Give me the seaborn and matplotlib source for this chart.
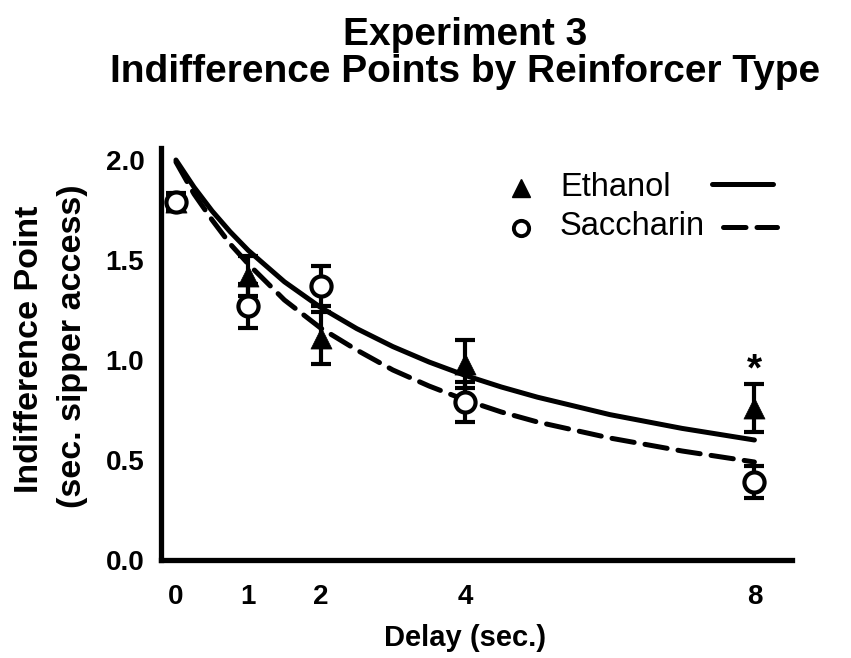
import matplotlib
matplotlib.use("Agg")
import matplotlib.pyplot as plt
from matplotlib.lines import Line2D
import numpy as np
import pandas as pd
import seaborn as sns

# ---------------- data ----------------
delays = [0, 1, 2, 4, 8]
ethanol_mean = [1.79, 1.42, 1.11, 0.98, 0.76]
ethanol_sem = [0.04, 0.10, 0.13, 0.12, 0.12]
saccharin_mean = [1.79, 1.27, 1.37, 0.79, 0.39]
saccharin_sem = [0.045, 0.11, 0.10, 0.10, 0.08]

# fitted curves, values
curve_x = [0, 0.25, 0.5, 0.75, 1, 1.5, 2, 2.5, 3, 3.5, 4, 4.5, 5, 6, 7, 8]
ethanol_fit = [2.00, 1.864, 1.745, 1.641, 1.548, 1.391, 1.263, 1.157, 1.067,
               0.990, 0.923, 0.865, 0.814, 0.727, 0.658, 0.600]
saccharin_fit = [1.99, 1.83, 1.70, 1.58, 1.48, 1.30, 1.16, 1.05, 0.95,
                 0.87, 0.80, 0.74, 0.69, 0.61, 0.545, 0.49]

x_ticks = [0, 1, 2, 4, 8]
y_ticks = [0.0, 0.5, 1.0, 1.5, 2.0]
y_tick_labels = ["0.0", "0.5", "1.0", "1.5", "2.0"]
series_names = ["Ethanol", "Saccharin"]
title_lines = ["Experiment 3", "Indifference Points by Reinforcer Type"]
ylabel_lines = ["Indifference Point", "(sec. sipper access)"]
xlabel = "Delay (sec.)"
sig_mark = "*"

# ---------------- styling ----------------
sns.set_theme(style="white")
plt.rcParams["font.family"] = ["Liberation Sans", "DejaVu Sans"]
plt.rcParams["text.color"] = "black"
plt.rcParams["axes.labelcolor"] = "black"
plt.rcParams["xtick.color"] = "black"
plt.rcParams["ytick.color"] = "black"

W, H = 851, 658
fig = plt.figure(figsize=(W / 100, H / 100), dpi=100)
ax = fig.add_axes([161 / W, (H - 560) / H, (792 - 161) / W, (560 - 148) / H])

pts = pd.DataFrame({
    "delay": delays * 2,
    "value": ethanol_mean + saccharin_mean,
    "sem": ethanol_sem + saccharin_sem,
    "group": [series_names[0]] * len(delays) + [series_names[1]] * len(delays),
})
fits = pd.DataFrame({
    "delay": curve_x * 2,
    "value": ethanol_fit + saccharin_fit,
    "group": [series_names[0]] * len(curve_x) + [series_names[1]] * len(curve_x),
})

LW = 3.6
DASH = (0, (4.5, 2.2))
# fitted curves
sns.lineplot(data=fits[fits.group == series_names[0]], x="delay", y="value",
             color="black", linewidth=LW, ax=ax, legend=False, zorder=2,
             solid_capstyle="round")
sns.lineplot(data=fits[fits.group == series_names[1]], x="delay", y="value",
             color="black", linewidth=LW, ax=ax, legend=False, zorder=2,
             linestyle=DASH, dash_capstyle="round")

# error bars
for name in series_names:
    d = pts[pts.group == name]
    ax.errorbar(d["delay"], d["value"], yerr=d["sem"], fmt="none",
                ecolor="black", elinewidth=3.0, capsize=7.5, capthick=3.0,
                zorder=3)

# markers
sns.scatterplot(data=pts[pts.group == series_names[0]], x="delay", y="value",
                marker="^", s=230, color="black", edgecolor="black",
                linewidth=0.5, ax=ax, legend=False, zorder=4)
sns.scatterplot(data=pts[pts.group == series_names[1]], x="delay", y="value",
                marker="o", s=210, facecolor="white", edgecolor="black",
                linewidth=3.0, ax=ax, legend=False, zorder=5)

# significance mark
ax.text(delays[-1], ethanol_mean[-1] + ethanol_sem[-1] + 0.02, sig_mark,
        ha="center", va="baseline", fontsize=28, fontweight="bold",
        color="black")

# axes
ax.set_xlim(-0.207, 8.52)
ax.set_ylim(0, 2.06)
ax.set_xticks(x_ticks)
ax.set_xticklabels([str(t) for t in x_ticks])
ax.set_yticks(y_ticks)
ax.set_yticklabels(y_tick_labels)
ax.set_xlabel("")
ax.set_ylabel("")
for s in ["top", "right"]:
    ax.spines[s].set_visible(False)
for s in ["left", "bottom"]:
    ax.spines[s].set_linewidth(3.8)
    ax.spines[s].set_color("black")
ax.tick_params(axis="both", direction="out", width=3.4, color="black",
               labelcolor="black")
ax.tick_params(axis="y", length=10, pad=2, labelsize=20)
ax.tick_params(axis="x", length=9, pad=8, labelsize=20)
for lab in ax.get_xticklabels() + ax.get_yticklabels():
    lab.set_fontweight("bold")
ax.patch.set_alpha(0)

# titles / labels
fig.text(465 / W, 1 - 35 / H, title_lines[0], ha="center", va="center",
         fontsize=28, fontweight="bold")
fig.text(465 / W, 1 - 72 / H, title_lines[1], ha="center", va="center",
         fontsize=28, fontweight="bold")
fig.text(30 / W, 1 - 349 / H, ylabel_lines[0], rotation=90, ha="center",
         va="center", fontsize=24.5, fontweight="bold")
fig.text(73 / W, 1 - 346 / H, ylabel_lines[1], rotation=90, ha="center",
         va="center", fontsize=24.5, fontweight="bold")
fig.text(465 / W, 1 - 638 / H, xlabel, ha="center", va="center",
         fontsize=21, fontweight="bold")

# legend (marker, label, line sample)
fig.add_artist(Line2D([521 / W], [1 - 188 / H], marker="^", markersize=13,
                      color="black", linestyle="none",
                      transform=fig.transFigure))
fig.add_artist(Line2D([521 / W], [1 - 228 / H], marker="o", markersize=11,
                      markerfacecolor="white", markeredgecolor="black",
                      markeredgewidth=2.8, linestyle="none",
                      transform=fig.transFigure))
fig.text(560 / W, 1 - 187 / H, series_names[0], ha="left", va="center",
         fontsize=23.5)
fig.text(560 / W, 1 - 227 / H, series_names[1], ha="left", va="center",
         fontsize=23.5)
fig.add_artist(Line2D([712 / W, 773 / W], [1 - 184 / H, 1 - 184 / H],
                      color="black", lw=LW, solid_capstyle="round",
                      transform=fig.transFigure))
fig.add_artist(Line2D([723 / W, 777 / W], [1 - 227 / H, 1 - 227 / H],
                      color="black", lw=LW, linestyle=DASH,
                      dash_capstyle="round", transform=fig.transFigure))

fig.savefig("out.png", dpi=100, facecolor="white")
